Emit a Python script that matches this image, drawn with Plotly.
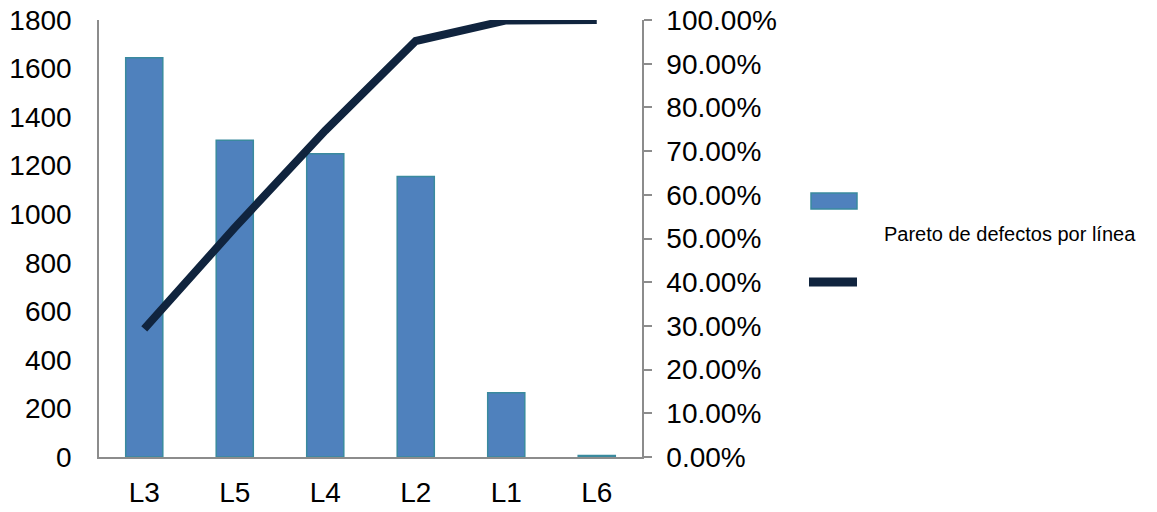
import plotly.graph_objects as go

# Defects per production line, sorted descending, with cumulative share
lines = ["L3", "L5", "L4", "L2", "L1", "L6"]
defects = [1645, 1305, 1249, 1155, 265, 6]
cumulative = [0.293, 0.525, 0.747, 0.952, 0.999, 1.0]

left_ticks = list(range(0, 1801, 200))
right_ticks = [i / 10 for i in range(0, 11)]

legend_title = "Pareto de defectos por línea"

BAR_FILL = "#4F81BD"
BAR_EDGE = "#3A8A9E"
LINE_COLOR = "#10243E"
AXIS_COLOR = "#8C8C8C"
FONT = "Liberation Sans, Arial, sans-serif"

W, H = 1157, 512
ML, MR, MT, MB = 99, 515, 20, 55
PW, PH = W - ML - MR, H - MT - MB


def frac_x(px):
    # pixel column -> paper fraction of the plot area
    return (px - ML) / PW


def frac_y(py):
    # pixel row -> paper fraction of the plot area
    return (H - MB - py) / PH


fig = go.Figure()

fig.add_trace(go.Bar(
    x=lines, y=defects,
    marker=dict(color=BAR_FILL, line=dict(color=BAR_EDGE, width=1.5)),
    showlegend=False,
))

fig.add_trace(go.Scatter(
    x=lines, y=cumulative, yaxis="y2", mode="lines",
    line=dict(color=LINE_COLOR, width=8),
    showlegend=False,
))

# Legend drawn by hand: bar swatch, caption, line swatch
shapes = [
    dict(type="rect", xref="paper", yref="paper",
         x0=frac_x(811), x1=frac_x(857), y0=frac_y(209), y1=frac_y(193),
         fillcolor=BAR_FILL, line=dict(color=BAR_EDGE, width=1.5)),
    dict(type="line", xref="paper", yref="paper",
         x0=frac_x(809), x1=frac_x(857), y0=frac_y(282), y1=frac_y(282),
         line=dict(color=LINE_COLOR, width=9)),
]

annotations = [
    dict(text=legend_title, xref="paper", yref="paper",
         x=frac_x(882), y=frac_y(234),
         xanchor="left", yanchor="middle", showarrow=False,
         font=dict(family=FONT, size=20, color="#000000")),
]

fig.update_layout(
    template="none",
    width=W, height=H,
    margin=dict(l=ML, r=MR, t=MT, b=MB, pad=0, autoexpand=False),
    paper_bgcolor="white", plot_bgcolor="white",
    font=dict(family=FONT, size=28, color="#000000"),
    bargap=0.59,
    xaxis=dict(
        type="category", showgrid=False, zeroline=False, automargin=False,
        showline=True, linecolor=AXIS_COLOR, linewidth=1.5,
        ticks="", ticklabelstandoff=10,
        tickfont=dict(family=FONT, size=28),
    ),
    yaxis=dict(
        range=[0, 1800], tickvals=left_ticks, automargin=False,
        showgrid=False, zeroline=False,
        showline=True, linecolor=AXIS_COLOR, linewidth=1.5,
        ticks="", ticklabelstandoff=20,
        tickfont=dict(family=FONT, size=28),
    ),
    yaxis2=dict(
        overlaying="y", side="right", anchor="x", automargin=False,
        range=[0, 1], tickvals=right_ticks, tickformat=".2%",
        showgrid=False, zeroline=False,
        showline=True, linecolor=AXIS_COLOR, linewidth=1.5,
        ticks="outside", ticklen=8, tickcolor=AXIS_COLOR, tickwidth=1.5,
        ticklabelstandoff=9,
        tickfont=dict(family=FONT, size=28),
    ),
    shapes=shapes,
    annotations=annotations,
)

fig.write_html("out.html")
